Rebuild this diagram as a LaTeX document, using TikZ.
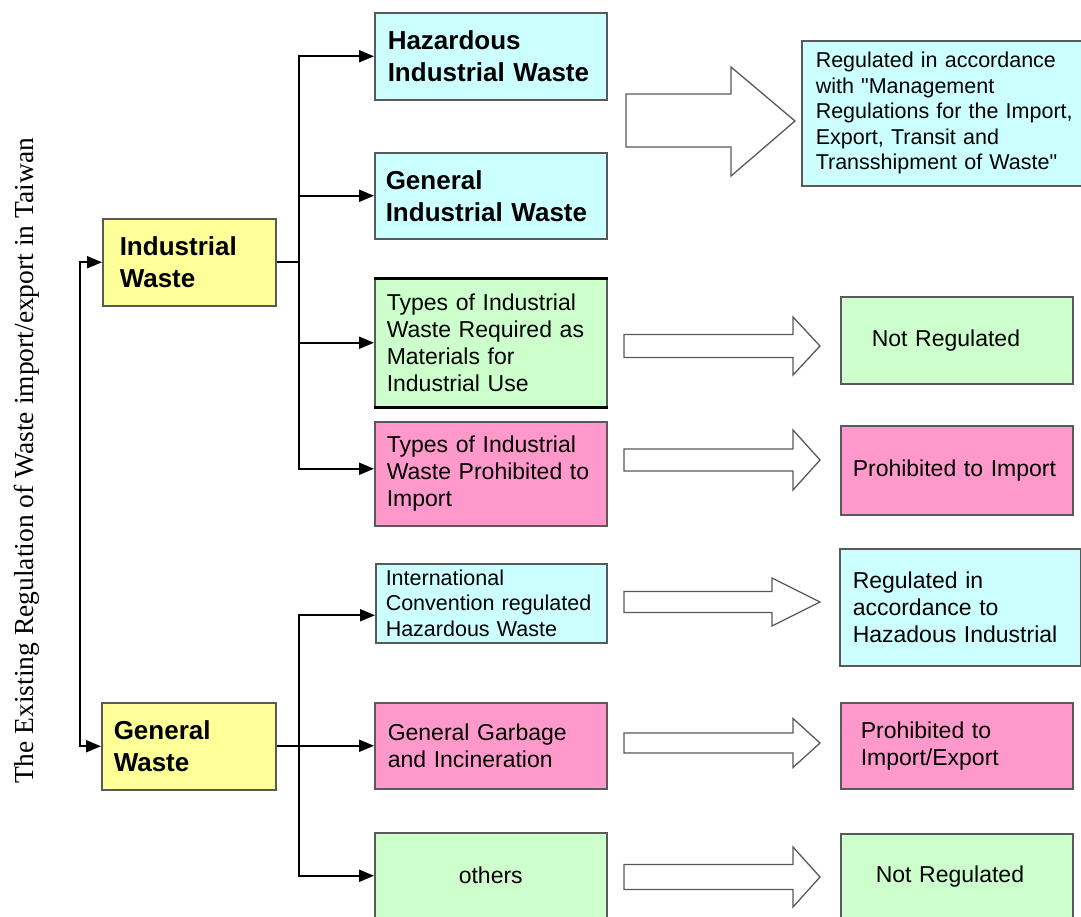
\documentclass[tikz,border=0pt]{standalone}
\usepackage{fontspec}
\setmainfont{Liberation Sans}
\newfontfamily\titlefont{Liberation Serif}
\usetikzlibrary{arrows.meta,calc}

\definecolor{wastecyan}{HTML}{CCFFFF}
\definecolor{wasteyellow}{HTML}{FFFF99}
\definecolor{wastegreen}{HTML}{CCFFCC}
\definecolor{wastepink}{HTML}{FF99CC}

\begin{document}
\begin{tikzpicture}[x=1pt, y=-1pt,
    wastebox/.style={draw=black!65, line width=1.5pt, inner sep=0pt, align=left, anchor=north west},
    bigfont/.style={font=\fontsize{26}{32}\selectfont\bfseries},
    midfont/.style={font=\fontsize{23}{27}\selectfont},
    smallfont/.style={font=\fontsize{21.5}{25.5}\selectfont},
    link/.style={-{Triangle[length=15pt,width=12pt]}, line width=2pt},
    blockarrow/.style={draw=black!65, line width=1.3pt, fill=white, line join=miter}]
\clip (0,0) rectangle (1081,916);
% title
\node[rotate=90, font=\titlefont\fontsize{27.5}{30}\selectfont] (title) at (27,461)
    {The Existing Regulation of Waste import/export in Taiwan};
% main groups
\node[wastebox, bigfont, fill=wasteyellow, minimum width=173, minimum height=87, text width=139] (ind) at (102,218)
    {Industrial\\Waste};
\node[wastebox, bigfont, fill=wasteyellow, minimum width=174, minimum height=87, text width=150] (gen) at (101,702)
    {General\\Waste};
% waste types
\node[wastebox, bigfont, fill=wastecyan, minimum width=232, minimum height=87, text width=206] (haz) at (374,12)
    {Hazardous\\Industrial Waste};
\node[wastebox, bigfont, fill=wastecyan, minimum width=232, minimum height=86, text width=210] (gind) at (374,152)
    {General\\Industrial Waste};
\node[wastebox, midfont, fill=wastegreen, minimum width=232, minimum height=128, text width=208] (req) at (374,278)
    {Types of Industrial\\Waste Required as\\Materials for\\Industrial Use};
\node[wastebox, midfont, fill=wastepink, minimum width=232, minimum height=104, text width=208] (proh) at (374,421)
    {Types of Industrial\\Waste Prohibited to\\Import};
\node[wastebox, smallfont, fill=wastecyan, minimum width=231, minimum height=79, text width=211] (intl) at (375,563)
    {International\\Convention regulated\\Hazardous Waste};
\node[wastebox, midfont, fill=wastepink, minimum width=232, minimum height=86, text width=206] (garb) at (374,702)
    {General Garbage\\and Incineration};
\node[wastebox, midfont, fill=wastegreen, minimum width=232, minimum height=86, align=center] (oth) at (374,832)
    {others};
% thick rules on the materials box
\draw[line width=3pt] (req.north west) -- (req.north east);
\draw[line width=3pt] (req.south west) -- (req.south east);
% regulations
\node[wastebox, smallfont, fill=wastecyan, minimum width=288, minimum height=145, text width=260] (mgmt) at (801,40)
    {Regulated in accordance\\with \textquotedbl Management\\Regulations for the Import,\\Export, Transit and\\Transshipment of Waste\textquotedbl};
\node[wastebox, midfont, fill=wastegreen, minimum width=232, minimum height=87, text width=170] (notreg) at (840,296)
    {Not Regulated};
\node[wastebox, midfont, fill=wastepink, minimum width=232, minimum height=89, text width=208] (noimp) at (840,425)
    {Prohibited to Import};
\node[wastebox, midfont, fill=wastecyan, minimum width=241, minimum height=117, text width=215] (hazreg) at (839,548)
    {Regulated in\\accordance to\\Hazadous Industrial};
\node[wastebox, midfont, fill=wastepink, minimum width=232, minimum height=86, text width=192] (noimpexp) at (840,702)
    {Prohibited to\\Import/Export};
\node[wastebox, midfont, fill=wastegreen, minimum width=232, minimum height=86, text width=162] (notreg2) at (840,833)
    {Not Regulated};
% block arrows
\draw[blockarrow] (626,94) -- (731,94) -- (731,67) -- (795,121) -- (731,176) -- (731,147) -- (626,147) -- cycle;
\foreach \yc/\bh/\hh/\hb in {346/11.5/29/793, 460/11/30/793, 602/10.5/24/772, 743/10/24.5/793, 877/12.5/30/793} {
    \draw[blockarrow] (624,\yc-\bh) -- (\hb,\yc-\bh) -- (\hb,\yc-\hh) -- (820,\yc)
        -- (\hb,\yc+\hh) -- (\hb,\yc+\bh) -- (624,\yc+\bh) -- cycle;
}
% connectors
\coordinate (titlefork) at (80,500);
\draw[link] (titlefork) |- (ind.west);
\draw[link] (titlefork) |- (gen.west);
\coordinate (indfork) at ($(ind.east)+(22,0)$);
\draw[line width=2pt] (ind.east) -- (indfork);
\foreach \t in {haz,gind,req} {
    \draw[link] (indfork) |- (\t.west);
}
\draw[link] (indfork) |- ([yshift=5pt]proh.west);
\coordinate (genfork) at ($(gen.east)+(22,0)$);
\draw[line width=2pt] (gen.east) -- (genfork);
\draw[link] (genfork) |- ([yshift=-12pt]intl.west);
\draw[link] (genfork) |- (garb.west);
\draw[link] (genfork) |- (oth.west);
\end{tikzpicture}
\end{document}
